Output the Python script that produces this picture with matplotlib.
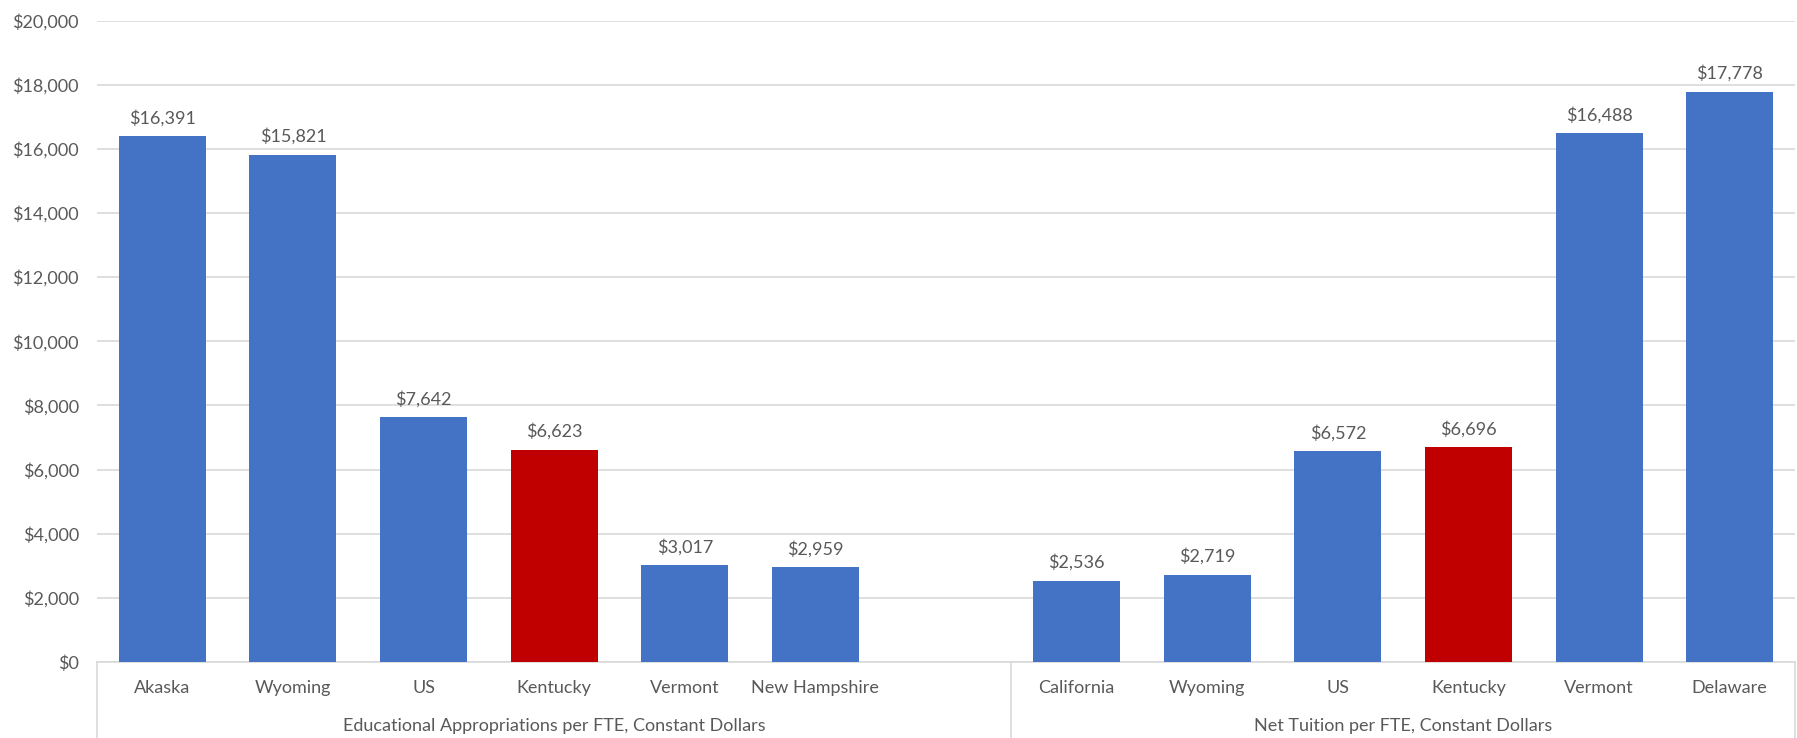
import matplotlib.pyplot as plt
from matplotlib.ticker import FuncFormatter

# data
states = ["Akaska", "Wyoming", "US", "Kentucky", "Vermont", "New Hampshire", "",
          "California", "Wyoming", "US", "Kentucky", "Vermont", "Delaware"]
values = [16391, 15821, 7642, 6623, 3017, 2959, None,
          2536, 2719, 6572, 6696, 16488, 17778]
groups = ["Educational Appropriations per FTE, Constant Dollars",
          "Net Tuition per FTE, Constant Dollars"]
group_edges = [-0.5, 6.5, 12.5]

BLUE = "#4472C4"
RED = "#C00000"
TEXT = "#595959"
GRID = "#D9D9D9"
FS = 13

plt.rcParams["font.family"] = ["Lato", "DejaVu Sans"]

fig = plt.figure(figsize=(17.97, 7.38), dpi=100)
ax = fig.add_axes([97 / 1797, 76 / 738, (1795 - 97) / 1797, (662 - 20.5) / 738])

xs = [i for i, v in enumerate(values) if v is not None]
vs = [v for v in values if v is not None]
colors = [RED if states[i] == "Kentucky" else BLUE for i in xs]

ax.bar(xs, vs, width=0.667, color=colors, zorder=3)
for x, v in zip(xs, vs):
    ax.annotate(f"${v:,.0f}", (x, v), xytext=(0, 7), textcoords="offset points",
                ha="center", va="bottom", fontsize=FS, color=TEXT)

ax.set_xlim(-0.5, 12.5)
ax.set_ylim(0, 20000)
ax.set_yticks(range(0, 20001, 2000))
ax.yaxis.set_major_formatter(FuncFormatter(lambda v, p: f"${v:,.0f}"))
ax.grid(axis="y", color=GRID, linewidth=1.2, zorder=0)
ax.tick_params(axis="y", length=0, pad=13, labelsize=FS, labelcolor=TEXT)
ax.tick_params(axis="x", length=0, pad=13, labelsize=FS, labelcolor=TEXT)
ax.set_xticks(range(len(states)))
ax.set_xticklabels(states)

for s in ["left", "right", "top"]:
    ax.spines[s].set_visible(False)
ax.spines["bottom"].set_color(GRID)
ax.spines["bottom"].set_linewidth(1.2)

# multi-level category axis
trans = ax.get_xaxis_transform()
for e in group_edges:
    ax.plot([e, e], [0, -0.12], transform=trans, color=GRID, linewidth=1.2,
            clip_on=False)
for i, g in enumerate(groups):
    c = (group_edges[i] + group_edges[i + 1]) / 2
    ax.text(c, -0.1, g, transform=trans, ha="center", va="center",
            fontsize=FS, color=TEXT)

fig.savefig("out.png", dpi=100)
